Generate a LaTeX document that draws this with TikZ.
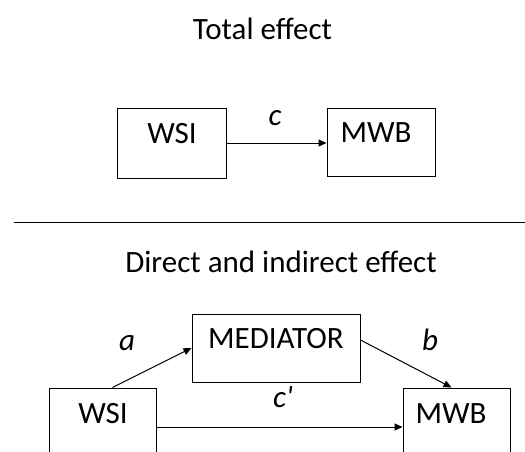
\documentclass[tikz,border=0pt]{standalone}
\usepackage{fontspec}
\setmainfont{Carlito}
\usetikzlibrary{arrows.meta}

\begin{document}
\begin{tikzpicture}[x=1pt, y=-1pt,
    box/.style={draw, line width=1pt, minimum width=108pt, minimum height=68pt, inner sep=0pt},
    word/.style={anchor=base, inner sep=0pt, font=\fontsize{31}{37}\selectfont},
    coef/.style={word, font=\fontsize{31}{37}\selectfont\itshape},
    arr/.style={line width=1pt, -{Triangle[length=8pt, width=7pt]}}]
    \useasboundingbox (0,0) rectangle (525,451);
    \clip (0,0) rectangle (525,451);

    % total effect
    \node[word] (title1) at (262.5,39) {Total effect};
    \node[box, minimum width=109pt, minimum height=70pt] (wsi1) at (171.5,143) {};
    \node[box] (mwb1) at (381,142) {};
    \node[word] (wsi1txt) at (172,143) {WSI};
    \node[word] (mwb1txt) at (376,142) {MWB};
    \path[arr] (wsi1.east) edge (wsi1.east -| mwb1.west);
    \node[coef] (c) at (275,125) {c};

    \coordinate (rulel) at (14,222);
    \coordinate (ruler) at (525,222);
    \draw[line width=1pt] (rulel) -- (ruler);

    % direct and indirect effect
    \node[word] (title2) at (281,272) {Direct and indirect effect};
    \node[box, minimum width=168pt] (med) at (276,348) {};
    \node[box, minimum width=107pt] (wsi2) at (102.5,422) {};
    \node[box, minimum width=107pt] (mwb2) at (456.5,422) {};
    \node[word] (medtxt) at (276,348) {MEDIATOR};
    \node[word] (wsi2txt) at (103,423) {WSI};
    \node[word] (mwb2txt) at (451,423) {MWB};

    \path[arr] ([xshift=10pt]wsi2.north) edge (med.west);
    \path[arr] ([yshift=8pt]med.east) edge ([xshift=-5pt]mwb2.north);
    \path[arr] ([yshift=-5pt]wsi2.east) edge ([yshift=-5pt]mwb2.west);
    \node[coef] (a) at (127,350) {a};
    \node[coef] (b) at (430,350) {b};
    \node[coef] (cp) at (283,407) {c\textquotesingle};
\end{tikzpicture}
\end{document}
